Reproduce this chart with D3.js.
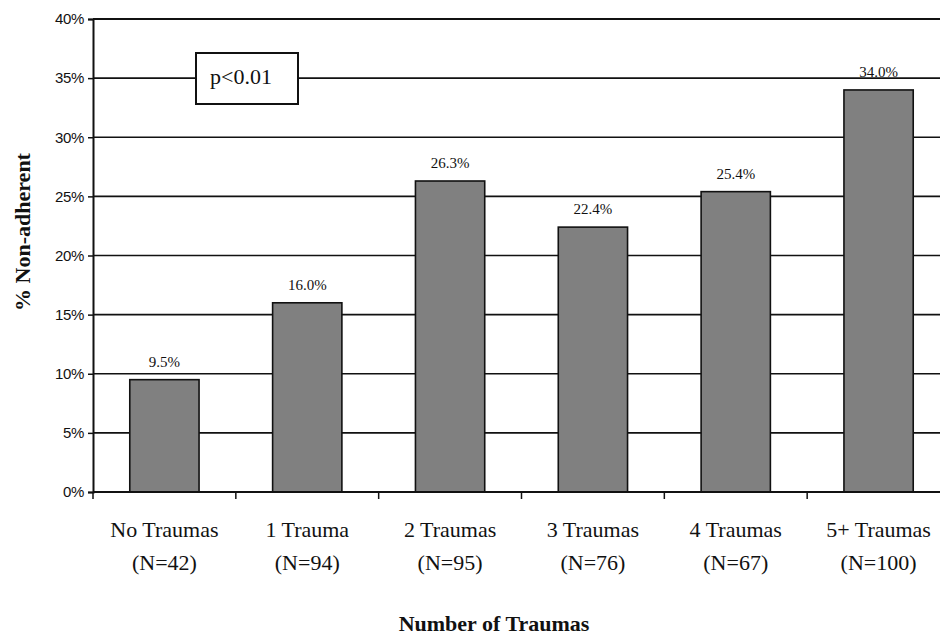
<!DOCTYPE html>
<html>
<head>
<meta charset="utf-8">
<script src="https://cdn.jsdelivr.net/npm/d3@7"></script>
<style>
  html, body { margin: 0; padding: 0; background: #fff; }
  svg { display: block; }
</style>
</head>
<body>
<svg id="chart" width="940" height="637"></svg>
<script>
const categories = ["No Traumas", "1 Trauma", "2 Traumas", "3 Traumas", "4 Traumas", "5+ Traumas"];
const sampleSizes = ["(N=42)", "(N=94)", "(N=95)", "(N=76)", "(N=67)", "(N=100)"];
const values = [9.5, 16.0, 26.3, 22.4, 25.4, 34.0];
const yTicks = [0, 5, 10, 15, 20, 25, 30, 35, 40];
const pLabel = "p<0.01";
const yTitle = "% Non-adherent";
const xTitle = "Number of Traumas";

const svg = d3.select("#chart");
const m = { left: 93, right: 950, top: 19, bottom: 492 };
const serif = "'Liberation Serif', 'Times New Roman', serif";
const sans = "'Liberation Sans', Arial, sans-serif";

const x = d3.scaleBand().domain(categories).range([m.left, m.right])
  .paddingInner(0.515).paddingOuter(0.2575);
const y = d3.scaleLinear().domain([0, 40]).range([m.bottom, m.top]);

// gridlines
svg.append("g").selectAll("line").data(yTicks.filter(d => d > 0)).join("line")
  .attr("x1", m.left).attr("x2", m.right)
  .attr("y1", d => y(d)).attr("y2", d => y(d))
  .attr("stroke", "#111").attr("stroke-width", 1.6);

// p-value box
const box = svg.append("g");
box.append("rect").attr("x", 196).attr("y", 53).attr("width", 102).attr("height", 51)
  .attr("fill", "#fff").attr("stroke", "#111").attr("stroke-width", 2);
box.append("text").attr("x", 241).attr("y", 84).attr("text-anchor", "middle")
  .attr("font-family", serif).attr("font-size", 22).attr("fill", "#111").text(pLabel);

// bars
svg.append("g").selectAll("rect").data(values).join("rect")
  .attr("x", (d, i) => x(categories[i]))
  .attr("width", x.bandwidth())
  .attr("y", d => y(d))
  .attr("height", d => y(0) - y(d))
  .attr("fill", "#808080").attr("stroke", "#111").attr("stroke-width", 1.6);

// value labels
svg.append("g").selectAll("text").data(values).join("text")
  .attr("x", (d, i) => x(categories[i]) + x.bandwidth() / 2)
  .attr("y", d => y(d) - 13)
  .attr("text-anchor", "middle")
  .attr("font-family", serif).attr("font-size", 15)
  .attr("fill", "#111")
  .text(d => d.toFixed(1) + "%");

// y axis
const yAxis = svg.append("g").attr("transform", `translate(${m.left},0)`)
  .call(d3.axisLeft(y).tickValues(yTicks).tickSize(5).tickPadding(4).tickFormat(d => d + "%"));
yAxis.select(".domain").attr("stroke", "#111").attr("stroke-width", 2);
yAxis.selectAll(".tick line").attr("stroke", "#111").attr("stroke-width", 1.5);
yAxis.selectAll(".tick text").attr("font-family", sans).attr("font-size", 15)
  .attr("letter-spacing", -0.3).attr("fill", "#111");

// top border
svg.append("line").attr("x1", m.left).attr("x2", m.right).attr("y1", m.top).attr("y2", m.top)
  .attr("stroke", "#111").attr("stroke-width", 2);

// x axis baseline + boundary ticks
svg.append("line").attr("x1", m.left).attr("x2", m.right).attr("y1", m.bottom).attr("y2", m.bottom)
  .attr("stroke", "#111").attr("stroke-width", 2);
const bounds = d3.range(categories.length + 1).map(i => m.left + i * x.step());
svg.append("g").selectAll("line").data(bounds).join("line")
  .attr("x1", d => d).attr("x2", d => d)
  .attr("y1", m.bottom).attr("y2", m.bottom + 7)
  .attr("stroke", "#111").attr("stroke-width", 1.5);

// x labels
const xl = svg.append("g").selectAll("text").data(categories).join("text")
  .attr("text-anchor", "middle")
  .attr("font-family", serif).attr("font-size", 22)
  .attr("fill", "#111");
xl.append("tspan").attr("x", d => x(d) + x.bandwidth() / 2).attr("y", 537).text(d => d);
xl.append("tspan").attr("x", d => x(d) + x.bandwidth() / 2).attr("y", 570)
  .text((d, i) => sampleSizes[i]);

// axis titles
svg.append("text").attr("transform", "translate(30,232) rotate(-90)")
  .attr("text-anchor", "middle").attr("font-family", serif).attr("font-weight", "bold")
  .attr("font-size", 22).attr("fill", "#111").text(yTitle);
svg.append("text").attr("x", 494).attr("y", 631).attr("text-anchor", "middle")
  .attr("font-family", serif).attr("font-weight", "bold").attr("font-size", 22)
  .attr("fill", "#111").text(xTitle);
</script>
</body>
</html>
